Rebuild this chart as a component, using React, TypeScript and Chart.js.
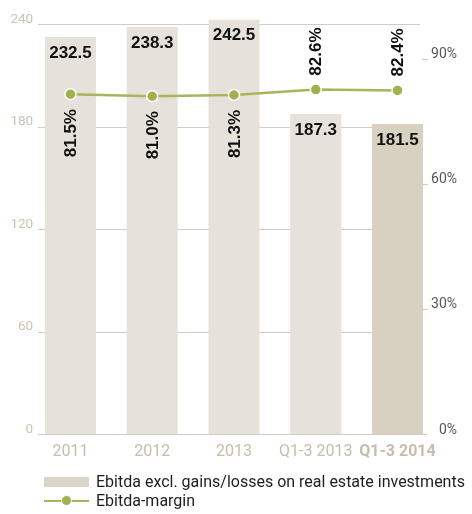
import { useEffect, useRef } from "react";
import { Chart, registerables } from "chart.js";

Chart.register(...registerables);

const categories = ["2011", "2012", "2013", "Q1-3 2013", "Q1-3 2014"];
const ebitdaValues = [232.5, 238.3, 242.5, 187.3, 181.5];
const marginValues = [81.5, 81.0, 81.3, 82.6, 82.4];
const leftTicks = [0, 60, 120, 180, 240];
const rightTicks = [0, 30, 60, 90];
const barLegendLabel = "Ebitda excl. gains/losses on real estate investments";
const lineLegendLabel = "Ebitda-margin";

const barColors = ["#e6e2db", "#e6e2db", "#e6e2db", "#e6e2db", "#d8d0c1"];
const lineColor = "#a9b55c";
const pointColor = "#a3b050";
const gridColor = "#d3ccbf";
const leftTickColor = "#cdc4b3";
const xTickColor = "#c6bdac";
const rightTickColor = "#555555";
const axisFont = "Roboto";
const valueFont = "'Liberation Sans', Arial, sans-serif";

const decorPlugin = {
  id: "decor",
  beforeDatasetsDraw(chart: any) {
    const { ctx } = chart;
    const y = chart.scales.y;
    const y1 = chart.scales.y1;
    const barMeta = chart.getDatasetMeta(1);
    const first = barMeta.data[0];
    const last = barMeta.data[barMeta.data.length - 1];
    const x0 = first.x - first.width / 2 - 7;
    const lastRight = last.x + last.width / 2;
    ctx.save();
    ctx.strokeStyle = gridColor;
    ctx.lineWidth = 1.2;
    y.ticks.forEach((t: any) => {
      const py = Math.round(y.getPixelForValue(t.value)) + 0.5;
      ctx.beginPath();
      ctx.moveTo(x0, py);
      ctx.lineTo(t.value === 0 ? lastRight + 4 : lastRight - 3, py);
      ctx.stroke();
    });
    y1.ticks.forEach((t: any) => {
      if (t.value === 0) return;
      const py = Math.round(y1.getPixelForValue(t.value)) + 0.5;
      ctx.beginPath();
      ctx.moveTo(lastRight - 1, py);
      ctx.lineTo(lastRight + 5, py);
      ctx.stroke();
    });
    ctx.restore();
  },
  afterDatasetsDraw(chart: any) {
    const { ctx } = chart;
    const barMeta = chart.getDatasetMeta(1);
    const lineMeta = chart.getDatasetMeta(0);
    ctx.save();
    ctx.fillStyle = "#111111";
    ctx.font = `bold 17px ${valueFont}`;
    ctx.textAlign = "center";
    ctx.textBaseline = "middle";
    barMeta.data.forEach((el: any, i: number) => {
      ctx.fillText(ebitdaValues[i].toFixed(1), el.x, el.y + 16);
    });
    lineMeta.data.forEach((pt: any, i: number) => {
      const below = i < 3;
      ctx.save();
      ctx.translate(pt.x + 1, pt.y + (below ? 39 : -38));
      ctx.rotate(-Math.PI / 2);
      ctx.fillText(marginValues[i].toFixed(1) + "%", 0, 0);
      ctx.restore();
    });
    ctx.restore();
  },
  afterDraw(chart: any) {
    const { ctx, chartArea } = chart;
    const y = chart.scales.y;
    const y1 = chart.scales.y1;
    ctx.save();
    ctx.textAlign = "right";
    ctx.textBaseline = "middle";
    ctx.fillStyle = leftTickColor;
    ctx.font = `13.5px ${axisFont}`;
    y.ticks.forEach((t: any) => {
      ctx.fillText(String(t.value), chartArea.left + 3.6, y.getPixelForValue(t.value) - 4.5);
    });
    ctx.fillStyle = rightTickColor;
    ctx.font = `14px ${axisFont}`;
    y1.ticks.forEach((t: any) => {
      ctx.fillText(t.value + "%", y1.right, y1.getPixelForValue(t.value) - 4);
    });
    ctx.restore();
  },
};

export default function App() {
  const canvasRef = useRef<HTMLCanvasElement | null>(null);

  useEffect(() => {
    document.body.style.margin = "0";
    const canvas = canvasRef.current;
    if (!canvas) return;
    const chart = new Chart(canvas, {
      type: "bar",
      data: {
        labels: categories,
        datasets: [
          {
            type: "line",
            label: lineLegendLabel,
            data: marginValues,
            yAxisID: "y1",
            borderColor: lineColor,
            borderWidth: 2.5,
            pointRadius: 5.5,
            pointBackgroundColor: pointColor,
            pointBorderColor: "#ffffff",
            pointBorderWidth: 1.5,
            tension: 0,
            order: 0,
          } as any,
          {
            type: "bar",
            label: barLegendLabel,
            data: ebitdaValues,
            yAxisID: "y",
            backgroundColor: barColors,
            barPercentage: 0.624,
            categoryPercentage: 1,
            order: 1,
          },
        ],
      },
      options: {
        responsive: false,
        animation: false,
        layout: { padding: { top: 6, right: 15, bottom: 0, left: 0 } },
        plugins: {
          legend: { display: false },
          tooltip: { enabled: false },
        },
        scales: {
          x: {
            grid: { display: false, drawTicks: false },
            border: { display: false },
            ticks: {
              color: xTickColor,
              padding: 8.5,
              maxRotation: 0,
              autoSkip: false,
              font: (c: any) => ({
                family: axisFont,
                size: 16,
                weight: c.index === categories.length - 1 ? "bold" : "normal",
              }),
            },
            afterFit(s: any) {
              s.height = 80;
            },
          },
          y: {
            position: "left",
            min: 0,
            max: 250,
            grid: { display: false, drawTicks: false },
            border: { display: false },
            afterBuildTicks(s: any) {
              s.ticks = leftTicks.map((v) => ({ value: v }));
            },
            ticks: { display: false },
            afterFit(s: any) {
              s.width = 29.6;
            },
          },
          y1: {
            position: "right",
            min: 0,
            max: 102.4,
            grid: { display: false, drawTicks: false },
            border: { display: false },
            afterBuildTicks(s: any) {
              s.ticks = rightTicks.map((v) => ({ value: v }));
            },
            ticks: { display: false },
            afterFit(s: any) {
              s.width = 18.6;
            },
          },
        },
      },
      plugins: [decorPlugin],
    });
    return () => chart.destroy();
  }, []);

  const legendText: React.CSSProperties = {
    fontFamily: axisFont,
    fontSize: 16,
    color: "#1e1e1e",
    whiteSpace: "nowrap",
  };

  return (
    <div style={{ position: "relative", width: 472, height: 514 }}>
      <canvas ref={canvasRef} width={472} height={514} style={{ display: "block" }} />
      <div style={{ position: "absolute", left: 44, top: 472 }}>
        <div style={{ display: "flex", alignItems: "center", height: 19 }}>
          <div style={{ width: 45, height: 10, background: "#dbd5c9", marginRight: 7 }} />
          <span style={legendText}>{barLegendLabel}</span>
        </div>
        <div style={{ display: "flex", alignItems: "center", height: 19 }}>
          <div style={{ position: "relative", width: 45, height: 12, marginRight: 7 }}>
            <div style={{ position: "absolute", left: 0, right: 0, top: 5, height: 2, background: lineColor }} />
            <div
              style={{
                position: "absolute",
                left: 17,
                top: 0,
                width: 11,
                height: 11,
                borderRadius: "50%",
                background: pointColor,
                boxSizing: "border-box",
                border: "1px solid #ffffff",
              }}
            />
          </div>
          <span style={legendText}>{lineLegendLabel}</span>
        </div>
      </div>
    </div>
  );
}
